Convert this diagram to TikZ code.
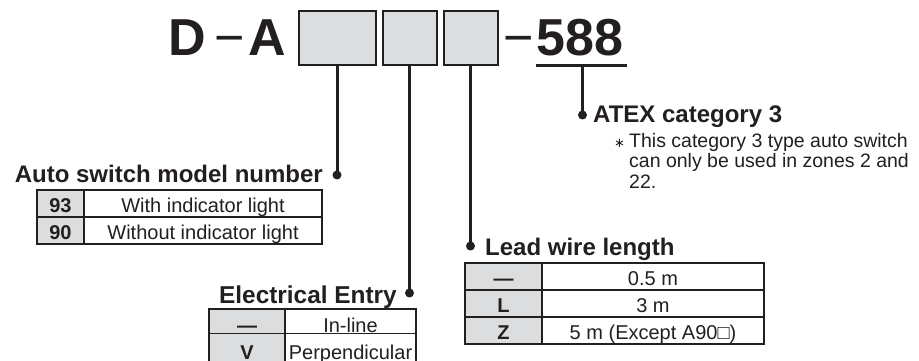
\documentclass[tikz,border=0pt]{standalone}
\usepackage{fontspec}
\setmainfont{Liberation Sans}
\newfontfamily\dejavu{DejaVu Sans}
\definecolor{ink}{HTML}{231F20}
\definecolor{cellgray}{HTML}{DCDDDE}
\begin{document}
\begin{tikzpicture}[x=1pt,y=-1pt,
  box/.style={draw=ink, line width=2pt, fill=cellgray, inner sep=0, minimum height=54pt},
  dotnode/.style={circle, fill=ink, inner sep=0, minimum size=9pt},
  conn/.style={draw=ink, line width=3pt},
  title/.style={font=\fontsize{24}{28}\selectfont\bfseries, text=ink, inner sep=0},
  big/.style={font=\fontsize{52}{60}\selectfont\bfseries, text=ink, inner sep=0},
  bigdash/.style={font=\fontsize{52}{60}\selectfont, text=ink, inner sep=0},
  cellg/.style={draw=ink, line width=1.8pt, fill=cellgray, inner sep=0, font=\fontsize{20}{24}\selectfont\bfseries, text=ink},
  cellw/.style={draw=ink, line width=1.8pt, fill=white, inner sep=0, font=\fontsize{20}{24}\selectfont, text=ink},
  note/.style={font=\fontsize{19.5}{20.5}\selectfont, text=ink, inner sep=0, align=left}
]
\useasboundingbox (0,0) rectangle (919,361);
\fill[white] (0,0) rectangle (919,361);

% model code
\node[big, anchor=base west] (D) at (168,56) {D};
\node[bigdash, anchor=base west] (dash1) at (214.5,56) {−};
\node[big, anchor=base west] (A) at (248,56) {A};
\node[box, minimum width=77pt] (box1) at (337,38) {};
\node[box, minimum width=54pt] (box2) at (409.5,38) {};
\node[box, minimum width=54pt] (box3) at (470.5,38) {};
\node[bigdash, anchor=base west] (dash2) at (503.5,56) {−};
\node[big, anchor=base west] (n588) at (536,56) {588};
\coordinate (ulL) at (536,66);
\coordinate (ulR) at (627,66);
\coordinate (ulM) at (582.5,66);
\draw[conn] (ulL) -- (ulR);

% dots
\node[dotnode] (dot1) at (337,175) {};
\node[dotnode] (dot2) at (409.5,293) {};
\node[dotnode] (dot3) at (470.5,246) {};
\node[dotnode] (dot4) at (582.5,115) {};

% connectors
\draw[conn] (box1.south) -- (dot1.center);
\draw[conn] (box2.south) -- (dot2.center);
\draw[conn] (box3.south) -- (dot3.center);
\draw[conn] (ulM) -- (dot4.center);

% titles
\node[title, anchor=base east] (t1) at (323,182) {Auto switch model number};
\node[title, font=\fontsize{24.4}{28}\selectfont\bfseries, anchor=base east] (t2) at (397,303) {Electrical Entry};
\node[title, anchor=base west] (t3) at (485,255) {Lead wire length};
\node[title, anchor=base west] (t4) at (593,122) {ATEX category 3};

% note
\node[font=\dejavu\fontsize{13}{14}\selectfont, text=ink, inner sep=0, anchor=base west] (star) at (614,147) {∗};
\node[note, anchor=base west] (notetext) at (629,188) {This category 3 type auto switch\\can only be used in zones 2 and\\22.};

% table 1
\node[cellg, minimum width=47pt, minimum height=27pt, text height=18pt, text depth=0pt] (a1g) at (60.5,203.5) {93};
\node[cellw, minimum width=238pt, minimum height=27pt, text height=18pt, text depth=0pt] (a1w) at (203,203.5) {With indicator light};
\node[cellg, minimum width=47pt, minimum height=27pt, text height=18pt, text depth=0pt] (a2g) at (60.5,230.5) {90};
\node[cellw, minimum width=238pt, minimum height=27pt, text height=18pt, text depth=0pt] (a2w) at (203,230.5) {Without indicator light};

% table electrical entry
\node[cellg, minimum width=76pt, minimum height=24.5pt, text height=21.5pt, text depth=0pt] (e1g) at (247,321.25) {—};
\node[cellw, minimum width=131pt, minimum height=24.5pt, text height=21.5pt, text depth=0pt] (e1w) at (350.5,321.25) {In-line};
\node[cellg, minimum width=76pt, minimum height=29pt, text height=22pt, text depth=0pt] (e2g) at (247,348) {V};
\node[cellw, minimum width=131pt, minimum height=29pt, text height=22pt, text depth=0pt] (e2w) at (350.5,348) {Perpendicular};

% table lead wire
\node[cellg, minimum width=77pt, minimum height=27pt, text height=17pt, text depth=0pt] (l1g) at (503.5,276.5) {—};
\node[cellw, minimum width=222pt, minimum height=27pt, text height=17pt, text depth=0pt] (l1w) at (653,276.5) {0.5 m};
\node[cellg, minimum width=77pt, minimum height=27pt, text height=17pt, text depth=0pt] (l2g) at (503.5,303.5) {L};
\node[cellw, minimum width=222pt, minimum height=27pt, text height=17pt, text depth=0pt] (l2w) at (653,303.5) {3 m};
\node[cellg, minimum width=77pt, minimum height=27pt, text height=17pt, text depth=0pt] (l3g) at (503.5,330.5) {Z};
\node[cellw, minimum width=222pt, minimum height=27pt, text height=17pt, text depth=0pt] (l3w) at (653,330.5) {5 m (Except A90□)};
\end{tikzpicture}
\end{document}
